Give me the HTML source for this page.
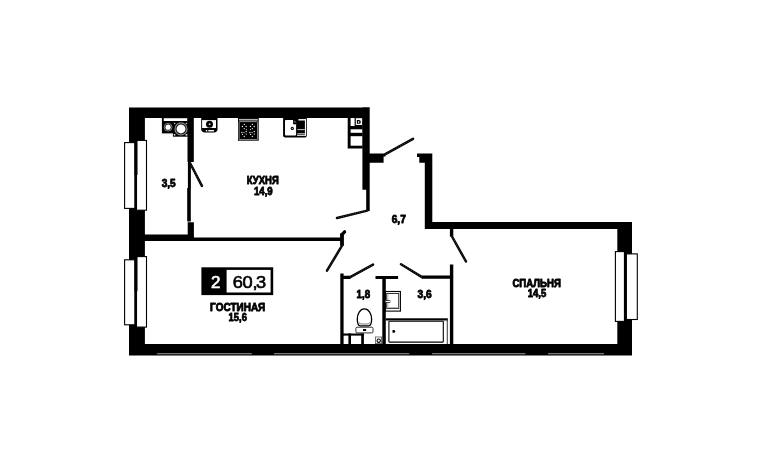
<!DOCTYPE html>
<html><head><meta charset="utf-8">
<style>
html,body{margin:0;padding:0;background:#fff;}
body{width:762px;height:463px;overflow:hidden;font-family:"Liberation Sans",sans-serif;}
svg{display:block;will-change:transform;filter:grayscale(1)}
text{font-family:"Liberation Sans",sans-serif;font-weight:bold;fill:#000;}
.t{font-size:10.4px;stroke:#000;stroke-width:0.8px;stroke-linejoin:round;}
</style></head><body>
<svg width="762" height="463" viewBox="0 0 762 463">
<rect width="762" height="463" fill="#fff"/>
<!-- outer walls -->
<path fill="#000" d="M129 107.4H369.7V118H129ZM129 107.4H144.9V355.6H129ZM129 344H632V355.6H129ZM617.3 222H632V355.6H617.3ZM424.8 222H632V229H424.8ZM424.8 153.5H432.3V228.5H424.8ZM417 153.5H432.2V156.9H417ZM419.3 153.5H427.3V162.8H419.3ZM362.4 107.3H369.7V189.7H362.4ZM366.2 189H369.7V211H366.2ZM369 153.6H383.6V162.7H369ZM383 153.6H385.5V156.6H383ZM187.5 117H193.8V162H187.5ZM187.9 161H190.9V189H187.9ZM187.2 188H190.8V221.6H187.2ZM187.7 222.3H193.9V241H187.7ZM144 234.6H193.8V241H144ZM193 237.4H343.7V241H193ZM340.1 233.4H343.9V245.7H340.1ZM340.3 273.6H343.6V345.2H340.3ZM340.3 275.8H350.5V279H340.3ZM375.5 275.9H398.1V279.1H375.5ZM382.3 275.9H385.8V345.9H382.3ZM422 275.6H453V278.8H422ZM449.9 264.6H453.3V344.6H449.9ZM449.9 228H453.3V236.4H449.9Z"/>
<!-- grey lines in bottom wall -->
<g fill="#868686">
<rect x="157.1" y="353.1" width="94.7" height="1.2"/>
<rect x="274.1" y="353.1" width="135.1" height="1.2"/>
<rect x="432.1" y="353.1" width="93.4" height="1.2"/>
<rect x="548.1" y="353.1" width="55.8" height="1.2"/>
</g>
<!-- door leaves -->
<g stroke="#000" stroke-width="2.5" stroke-linecap="round" fill="none">
<path id="dl" d="M190.3 163.5 L201.9 185.9 M385.4 154.2 L413 138.8 M367.3 210.6 L337 218 M342.3 245.2 L327 270.6 M350.2 277.2 L373 264.6 M422 277.1 L401 264.2 M451.7 236 L466 261.5"/>
<line x1="341.8" y1="234.6" x2="344.6" y2="231.8" stroke-width="3.3"/>
</g>
<path d="M190.3 163.5 L201.9 185.9 M385.4 154.2 L413 138.8 M367.3 210.6 L337 218 M342.3 245.2 L327 270.6 M350.2 277.2 L373 264.6 M422 277.1 L401 264.2 M451.7 236 L466 261.5" stroke="#fff" stroke-opacity="0.45" stroke-width="0.7" stroke-dasharray="0.9 1.5" fill="none"/>
<!-- windows -->
<g fill="#fff" stroke="#000" stroke-width="1.1">
<rect x="124.6" y="142.6" width="10.5" height="65.8"/>
<rect x="136.5" y="140.4" width="10" height="69.8"/>
<rect x="124.6" y="259.8" width="10.5" height="65"/>
<rect x="136.5" y="256.6" width="10" height="70.5"/>
<rect x="615.4" y="251.6" width="9.5" height="69.8"/>
<rect x="626" y="253.9" width="11.3" height="65.6"/>
</g>
<g fill="#000">
<rect x="134.5" y="140" width="1.8" height="70.5"/><rect x="134.5" y="140" width="3" height="35"/>
<rect x="134.5" y="256.2" width="1.8" height="71.2"/><rect x="134.5" y="256.2" width="3" height="35"/>
<rect x="623.9" y="251.3" width="3" height="70.6"/>
</g>

<!-- balcony appliances -->
<g>
<rect x="161.9" y="117.5" width="26" height="15.9" fill="#000"/>
<rect x="172.9" y="120" width="14.8" height="16.7" fill="#000"/>
<rect x="163.7" y="118.2" width="23.5" height="2.8" fill="#fff"/>
<circle cx="168.1" cy="127.2" r="3.9" fill="#000" stroke="#8c8c8c" stroke-width="0.9"/>
<circle cx="168.1" cy="127.2" r="2.6" fill="#fff"/>
<circle cx="181" cy="128.9" r="6" fill="#000" stroke="#8c8c8c" stroke-width="1.2"/>
<circle cx="181" cy="128.9" r="4.5" fill="#fff"/>
<rect x="173.8" y="134" width="1.5" height="1.6" fill="#e6e6e6"/>
<rect x="185.6" y="134" width="1.5" height="1.6" fill="#e6e6e6"/>
<rect x="174" y="122.8" width="1.3" height="1.3" fill="#c8c8c8"/>
<rect x="185.8" y="122.8" width="1.3" height="1.3" fill="#c8c8c8"/>
</g>
<!-- boiler -->
<g>
<path d="M201.2 117.5 H217.5 V129.6 Q217.5 132.4 213.8 132.4 H205 Q201.2 132.4 201.2 129.6 Z" fill="#000"/>
<rect x="202.1" y="120.1" width="13.9" height="7.9" fill="#fff"/>
<circle cx="209.5" cy="124.2" r="3.5" fill="#000"/>
<circle cx="209.6" cy="124.2" r="0.9" fill="#ddd"/>
<rect x="205.8" y="130" width="8.1" height="1.4" fill="#fff"/>
<rect x="207.2" y="129" width="1.1" height="2.6" fill="#000"/>
</g>
<!-- stove -->
<g>
<rect x="238" y="117.5" width="20.7" height="23.2" fill="#000"/>
<rect x="238.9" y="118.9" width="18.9" height="1.6" fill="#b4b4b4"/>
<rect x="239.1" y="121.6" width="18.5" height="18" rx="0.8" fill="none" stroke="#cfcfcf" stroke-width="0.7"/>
<g fill="#ededed">
<circle cx="244.3" cy="124.4" r="0.68"/><circle cx="242.4" cy="126.5" r="0.68"/><circle cx="246.2" cy="126.5" r="0.68"/><circle cx="244.3" cy="128.6" r="0.68"/><circle cx="246.4" cy="129.5" r="0.55"/>
<circle cx="241.8" cy="132.5" r="0.68"/><circle cx="244" cy="132.6" r="0.62"/><circle cx="246.2" cy="131.5" r="0.68"/><circle cx="242.5" cy="134.4" r="0.62"/><circle cx="246.2" cy="134.1" r="0.62"/>
<path d="M243.4 136.9 L244.3 135.6 L245.2 136.9 Z"/>
<circle cx="252.4" cy="124.4" r="0.68"/><circle cx="250.5" cy="126.5" r="0.68"/><circle cx="254.3" cy="126.5" r="0.68"/><circle cx="252.4" cy="128.6" r="0.68"/><circle cx="250.4" cy="129.5" r="0.55"/>
<circle cx="249.9" cy="132.5" r="0.68"/><circle cx="252.1" cy="132.6" r="0.62"/><circle cx="254.3" cy="131.5" r="0.68"/><circle cx="250.6" cy="134.4" r="0.62"/><circle cx="254.3" cy="134.1" r="0.62"/>
<path d="M251.5 136.9 L252.4 135.6 L253.3 136.9 Z"/>
</g>
</g>
<!-- sink -->
<g>
<path d="M283.1 117.5 H306.8 V135.6 Q306.8 137.6 304.8 137.6 H285.1 Q283.1 137.6 283.1 135.6 Z" fill="#000"/>
<rect x="285" y="120" width="11.1" height="15.5" rx="0.9" fill="#fff"/>
<rect x="298.4" y="119.1" width="7.3" height="1.4" fill="#fff"/>
<rect x="304.9" y="119.1" width="1.1" height="16.7" fill="#fff"/>
<rect x="297.4" y="129.2" width="7.3" height="0.9" fill="#e0e0e0"/>
<rect x="297.4" y="133.3" width="7.6" height="0.9" fill="#dcdcdc"/>
<rect x="297" y="134.8" width="8.6" height="1" fill="#fff"/>
<circle cx="292.3" cy="128.4" r="1.6" fill="#000"/>
<circle cx="292.3" cy="128.3" r="0.6" fill="#fff"/>
<rect x="293.1" y="119.8" width="3.4" height="4.5" fill="#000"/>
<rect x="294.4" y="121" width="1" height="1.6" fill="#aaa"/>
</g>
<!-- cabinet -->
<g>
<rect x="347.7" y="117.5" width="15" height="31" fill="#000"/>
<rect x="350.6" y="118" width="4" height="8" fill="#fff"/>
<rect x="355.8" y="118.2" width="6.2" height="6.8" fill="#fff"/>
<path d="M356.9 120H358.9Q360.8 120 360.8 121.9Q360.8 123.8 358.9 123.8H356.9Z" fill="#000"/>
<rect x="358" y="121" width="1.3" height="1.9" rx="0.6" fill="#e8e8e8"/>
<rect x="350.6" y="129.3" width="11.6" height="3.5" fill="#fff"/>
<rect x="350.6" y="136.2" width="11.6" height="9.5" fill="#fff"/>
</g>
<!-- bathroom 1.8 -->
<g>
<path d="M364.4 308.9 C360 308.9 357.3 314 357.3 319 C357.3 323 358.6 325.8 360.3 325.8 H368.5 C370.2 325.8 371.6 323 371.6 319 C371.6 314 368.8 308.9 364.4 308.9 Z" fill="#fff" stroke="#000" stroke-width="1.3"/>
<path d="M358.6 322.2 Q360 324 361.5 324 H367.3 Q368.8 324 370.2 322.2" fill="none" stroke="#555" stroke-width="0.8"/>
<rect x="355.9" y="327.2" width="17.1" height="5.7" rx="1.2" fill="#fff" stroke="#1a1a1a" stroke-width="0.9"/>
<rect x="363" y="329" width="3.1" height="2" fill="#000"/>
<rect x="343" y="333.5" width="20.9" height="2.1" fill="#000"/>
<rect x="348.4" y="333.5" width="2.6" height="11" fill="#000"/>
<rect x="361.2" y="333.5" width="2.7" height="11" fill="#000"/>
<rect x="375.5" y="337" width="6.1" height="6.6" fill="#fff" stroke="#555" stroke-width="0.8"/>
<circle cx="378.7" cy="340.7" r="1.7" fill="#fff" stroke="#000" stroke-width="1.1"/>
</g>
<!-- bathroom 3.6 -->
<g>
<rect x="385.5" y="291.5" width="14.9" height="19.6" fill="#fff" stroke="#000" stroke-width="1.1"/>
<rect x="386.7" y="293.5" width="12" height="15" fill="#fff" stroke="#222" stroke-width="0.9"/>
<rect x="387.2" y="294" width="1.3" height="14" fill="#bbb"/>
<rect x="387.2" y="307" width="11" height="1.1" fill="#bbb"/>
<rect x="385.5" y="300.6" width="4.4" height="1.9" fill="#fff" stroke="#222" stroke-width="0.8"/>
<rect x="385.8" y="318.3" width="61.8" height="2.2" fill="#000"/>
<rect x="385.8" y="320.4" width="61.8" height="0.7" fill="#888"/>
<rect x="446.8" y="318.3" width="0.9" height="26" fill="#222"/>
<rect x="388.9" y="321.3" width="54.4" height="20.8" rx="0.6" fill="#fff" stroke="#000" stroke-width="1.1"/>
<path d="M392.5 330.1 H393.8 Q395.2 330.1 395.2 331.4 Q395.2 332.7 393.8 332.7 H392.5 Z" fill="#000"/>
</g>
<!-- badge -->
<g>
<rect x="201.4" y="267.3" width="71.8" height="27.8" fill="#000"/>
<rect x="226.6" y="269.9" width="44" height="22.6" fill="#fff"/>
<g transform="translate(210.9,288.2) scale(1.02,1)"><text x="0" y="0" font-size="16.6" style="fill:#fff;font-weight:normal;stroke:#fff;stroke-width:0.6px">2</text></g>
<g transform="translate(232.7,288.2) scale(1.1,1)"><text x="0 8.9 17.9 21.2" y="0" font-size="16.6" style="font-weight:normal;stroke:#000;stroke-width:0.6px">60,3</text></g>
</g>
<!-- labels -->
<g class="t">
<text x="246.8" y="184.35" textLength="31.9" lengthAdjust="spacingAndGlyphs">КУХНЯ</text>
<text x="253.9" y="194.95" textLength="18.8" lengthAdjust="spacingAndGlyphs">14,9</text>
<text x="161.7" y="187.25" textLength="14" lengthAdjust="spacingAndGlyphs">3,5</text>
<text x="391.7" y="223.05" textLength="14.2" lengthAdjust="spacingAndGlyphs">6,7</text>
<text x="210.1" y="311.05" textLength="55.2" lengthAdjust="spacingAndGlyphs">ГОСТИНАЯ</text>
<text x="228.6" y="321.45" textLength="18.3" lengthAdjust="spacingAndGlyphs">15,6</text>
<text x="512.4" y="286.65" textLength="48.5" lengthAdjust="spacingAndGlyphs">СПАЛЬНЯ</text>
<text x="527.8" y="296.75" textLength="18.4" lengthAdjust="spacingAndGlyphs">14,5</text>
<text x="356.6" y="298.15" textLength="13.5" lengthAdjust="spacingAndGlyphs">1,8</text>
<text x="417.6" y="298.15" textLength="14.2" lengthAdjust="spacingAndGlyphs">3,6</text>
</g>
</svg>
</body></html>
